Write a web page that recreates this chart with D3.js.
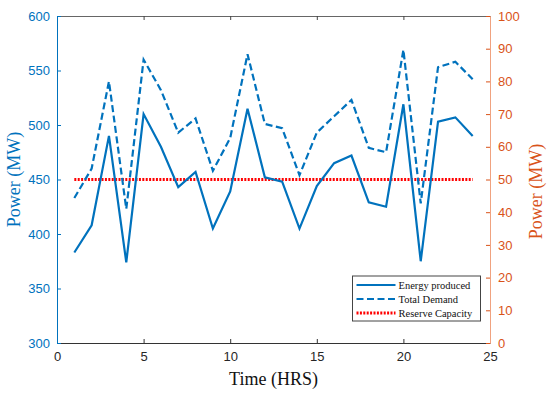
<!DOCTYPE html>
<meta charset="utf-8">
<script src="https://cdn.jsdelivr.net/npm/d3@7"></script>
<style>
body { margin: 0; background: #fff; }
.tick text { font-family: "Liberation Sans", Arial, sans-serif; font-size: 13px; }
.lbl { font-family: "Liberation Serif", "Times New Roman", serif; }
</style>
<body>
</body>
<script>
// hours 1..24
var hours = [1,2,3,4,5,6,7,8,9,10,11,12,13,14,15,16,17,18,19,20,21,22,23,24];
var energyProduced = [383,408,490,374,510,480,443,457,405,439,515,452,448,405,444,465,472,429,425,519,375,503,507,490];
var totalDemand = [433,460,540,423,560,532,493,506,458,488,565,501,497,454,493,508,523,479,475,569,428,553,558,542];
var reserveCapacity = 450;

var xTicks = [0,5,10,15,20,25];
var leftTicks = [300,350,400,450,500,550,600];
var rightTicks = [0,10,20,30,40,50,60,70,80,90,100];

var blue = "#0072BD", orange = "#D95319";

var margin = {top: 16, right: 60, bottom: 51, left: 57},
    width = 550 - margin.left - margin.right,
    height = 394 - margin.top - margin.bottom;

var svg = d3.select("body").append("svg")
    .attr("width", 550)
    .attr("height", 394)
  .append("g")
    .attr("transform", "translate(" + margin.left + "," + margin.top + ")");

var x = d3.scaleLinear().domain([0, 25]).range([0, width]);
var yL = d3.scaleLinear().domain([300, 600]).range([height, 0]);
var yR = d3.scaleLinear().domain([0, 100]).range([height, 0]);

// top border with ticks
var topAxis = svg.append("g")
    .call(d3.axisTop(x).tickValues(xTicks).tickSize(-4).tickFormat(""));
topAxis.select(".domain").attr("stroke", "#666").attr("stroke-width", 1);
topAxis.selectAll(".tick line").attr("stroke", "#444");

// bottom axis
var botAxis = svg.append("g")
    .attr("transform", "translate(0," + height + ")")
    .call(d3.axisBottom(x).tickValues(xTicks).tickSize(-4).tickPadding(9));
botAxis.select(".domain").attr("stroke", "#333");
botAxis.selectAll(".tick line").attr("stroke", "#333");
botAxis.selectAll(".tick text").attr("fill", "#262626");

// left axis
var leftAxis = svg.append("g")
    .call(d3.axisLeft(yL).tickValues(leftTicks).tickSize(-4).tickPadding(7));
leftAxis.select(".domain").attr("stroke", blue);
leftAxis.selectAll(".tick line").attr("stroke", blue);
leftAxis.selectAll(".tick text").attr("fill", blue);

// right axis
var rightAxis = svg.append("g")
    .attr("transform", "translate(" + width + ",0)")
    .call(d3.axisRight(yR).tickValues(rightTicks).tickSize(-4).tickPadding(8));
rightAxis.select(".domain").attr("stroke", "#F0A27F");
rightAxis.selectAll(".tick line").attr("stroke", orange);
rightAxis.selectAll(".tick text").attr("fill", orange);

var line = d3.line()
    .x(function(d, i) { return x(hours[i]); })
    .y(function(d) { return yL(d); });

svg.append("path")
    .datum(hours.map(function() { return reserveCapacity; }))
    .attr("fill", "none")
    .attr("stroke", "#FF0000")
    .attr("stroke-width", 3)
    .attr("stroke-dasharray", "2,1.4")
    .attr("d", line);

svg.append("path")
    .datum(totalDemand)
    .attr("fill", "none")
    .attr("stroke", blue)
    .attr("stroke-width", 2.2)
    .attr("stroke-dasharray", "7,3.5")
    .attr("d", line);

svg.append("path")
    .datum(energyProduced)
    .attr("fill", "none")
    .attr("stroke", blue)
    .attr("stroke-width", 2.2)
    .attr("d", line);

// axis labels
svg.append("text").attr("class", "lbl")
    .attr("transform", "translate(-37," + (height / 2) + ") rotate(-90)")
    .attr("text-anchor", "middle")
    .attr("fill", blue)
    .attr("font-size", "18px")
    .text("Power (MW)");

svg.append("text").attr("class", "lbl")
    .attr("transform", "translate(" + (width + 52) + "," + (height / 2 + 12) + ") rotate(-90)")
    .attr("text-anchor", "middle")
    .attr("fill", orange)
    .attr("font-size", "18px")
    .text("Power (MW)");

svg.append("text").attr("class", "lbl")
    .attr("x", width / 2)
    .attr("y", height + 42)
    .attr("text-anchor", "middle")
    .attr("fill", "#111")
    .attr("font-size", "18px")
    .text("Time (HRS)");

// legend
var legendKeys = ["Energy produced", "Total Demand", "Reserve Capacity"];
var legendStyles = [
  {color: blue, dash: null, w: 2.2},
  {color: blue, dash: "7,3.5", w: 2.2},
  {color: "#FF0000", dash: "2,1.4", w: 3}
];
var lg = svg.append("g").attr("transform", "translate(" + (352.5 - margin.left) + "," + (276 - margin.top) + ")");
lg.append("rect")
    .attr("width", 128).attr("height", 45)
    .attr("fill", "#fff").attr("stroke", "#444").attr("stroke-width", 1);
var item = lg.selectAll(".li").data(legendKeys).enter().append("g")
    .attr("transform", function(d, i) { return "translate(0," + (9 + i * 14) + ")"; });
item.append("line")
    .attr("x1", 4).attr("x2", 43)
    .attr("stroke", function(d, i) { return legendStyles[i].color; })
    .attr("stroke-width", function(d, i) { return legendStyles[i].w; })
    .attr("stroke-dasharray", function(d, i) { return legendStyles[i].dash; });
item.append("text").attr("class", "lbl")
    .attr("x", 46).attr("y", 4)
    .attr("font-size", "10.5px")
    .attr("fill", "#111")
    .text(function(d) { return d; });
</script>
